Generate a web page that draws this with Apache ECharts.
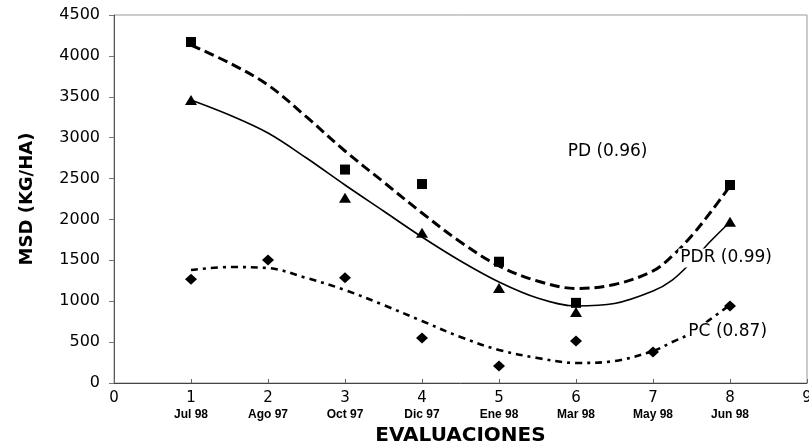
<!DOCTYPE html>
<html>
<head>
<meta charset="utf-8">
<script src="https://cdn.jsdelivr.net/npm/echarts@6/dist/echarts.min.js"></script>
<style>html,body{margin:0;padding:0;background:#fff}#c{width:809px;height:447px}</style>
</head>
<body>
<div id="c"></div>
<script>
// Evaluations (x positions) and their dates
const evalX = [1, 2, 3, 4, 5, 6, 7, 8];
const evalDates = ['Jul 98', 'Ago 97', 'Oct 97', 'Dic 97', 'Ene 98', 'Mar 98', 'May 98', 'Jun 98'];

// Observed values (null = not observed)
const pdObs  = [4170, null, 2610, 2433, 1483, 980, null, 2421];
const pdrObs = [3460, null, 2266, 1838, 1162, 868, null, 1972];
const pcObs  = [1268, 1504, 1288, 550, 208, 514, 379, 942];

// Trend curves
const trendX   = [1, 1.5, 2, 2.5, 3, 3.5, 4, 4.5, 5, 5.5, 6, 6.5, 7, 7.25, 7.5, 7.75, 8];
const pdTrend  = [4133, 3913, 3644, 3253, 2837, 2458, 2079, 1724, 1431, 1247, 1156, 1204, 1370, 1553, 1798, 2091, 2409];
const pdrTrend = [3461, 3277, 3057, 2751, 2421, 2103, 1785, 1492, 1235, 1039, 942, 972, 1125, 1259, 1480, 1736, 1969];
const pcTrend  = [1382, 1418, 1406, 1284, 1137, 954, 758, 562, 404, 306, 245, 269, 391, 501, 611, 783, 954];

// Curve annotations (text, x, y in data units)
const noteText = ['PD (0.96)', 'PDR (0.99)', 'PC (0.87)'];
const noteX = [6.41, 7.95, 7.97];
const noteY = [2830, 1528, 624];

const pair = (xs, ys) => xs.map((x, i) => [x, ys[i]]).filter(p => p[1] !== null);

const chart = echarts.init(document.getElementById('c'), null, {renderer: 'canvas'});
const FONT = '"DejaVu Sans", "Liberation Sans", Arial, sans-serif';
const ARIAL = '"Liberation Sans", Arial, sans-serif';

chart.setOption({
  animation: false,
  backgroundColor: '#fff',
  grid: {left: 114, right: 2, top: 15, bottom: 64, show: true, borderColor: '#999', borderWidth: 1,
         containLabel: false, outerBoundsMode: 'none'},
  xAxis: {
    type: 'value', min: 0, max: 9, interval: 1,
    name: 'EVALUACIONES', nameLocation: 'middle', nameGap: 41,
    nameTextStyle: {fontFamily: FONT, fontSize: 20, fontWeight: 'bold', color: '#000'},
    axisLine: {lineStyle: {color: '#444', width: 1}},
    axisTick: {inside: true, length: 4, lineStyle: {color: '#666'}},
    splitLine: {show: false},
    axisLabel: {
      margin: 8, hideOverlap: false,
      formatter: v => (v >= 1 && v <= 8) ? '{n|' + v + '}\n{m|' + evalDates[v - 1] + '}' : '{n|' + v + '}',
      rich: {
        n: {fontFamily: FONT, fontSize: 15, color: '#000', lineHeight: 15},
        m: {fontFamily: '"Liberation Sans Narrow", ' + ARIAL, fontSize: 12, fontWeight: 'bold', color: '#000', lineHeight: 17}
      }
    }
  },
  yAxis: {
    type: 'value', min: 0, max: 4500, interval: 500,
    name: 'MSD (KG/HA)', nameLocation: 'middle', nameGap: 78, nameRotate: 90,
    nameTextStyle: {fontFamily: FONT, fontSize: 18, fontWeight: 'bold', color: '#000'},
    axisLine: {show: true, lineStyle: {color: '#555', width: 1}},
    axisTick: {show: true, length: 5, lineStyle: {color: '#777'}},
    splitLine: {show: false},
    axisLabel: {margin: 14, fontFamily: FONT, fontSize: 16, color: '#000', formatter: v => String(v)}
  },
  series: [
    {type: 'line', data: pair(trendX, pdTrend), smooth: 0.35, symbol: 'none',
     lineStyle: {color: '#000', width: 3, type: [10, 5]}, z: 2},
    {type: 'line', data: pair(trendX, pdrTrend), smooth: 0.35, symbol: 'none',
     lineStyle: {color: '#000', width: 1.6, type: 'solid'}, z: 2},
    {type: 'line', data: pair(trendX, pcTrend), smooth: 0.35, symbol: 'none',
     lineStyle: {color: '#000', width: 2.6, type: [7, 5, 3, 5]}, z: 2},
    {type: 'scatter', data: pair(evalX, pdObs), symbol: 'rect', symbolSize: 10,
     itemStyle: {color: '#000', opacity: 1}, z: 3},
    {type: 'scatter', data: pair(evalX, pdrObs), symbol: 'triangle', symbolSize: [12, 10],
     itemStyle: {color: '#000', opacity: 1}, z: 3},
    {type: 'scatter', data: pair(evalX, pcObs), symbol: 'diamond', symbolSize: [12, 11],
     itemStyle: {color: '#000', opacity: 1}, z: 3},
    {type: 'scatter', symbolSize: 0, z: 10, silent: true,
     itemStyle: {opacity: 1},
     data: noteText.map((t, i) => ({value: [noteX[i], noteY[i]], name: t})),
     label: {show: true, position: 'inside', formatter: p => p.name, opacity: 1,
       fontFamily: FONT, fontSize: 17, color: '#000', backgroundColor: '#fff', padding: [1, 2]}}
  ]
});
</script>
</body>
</html>
